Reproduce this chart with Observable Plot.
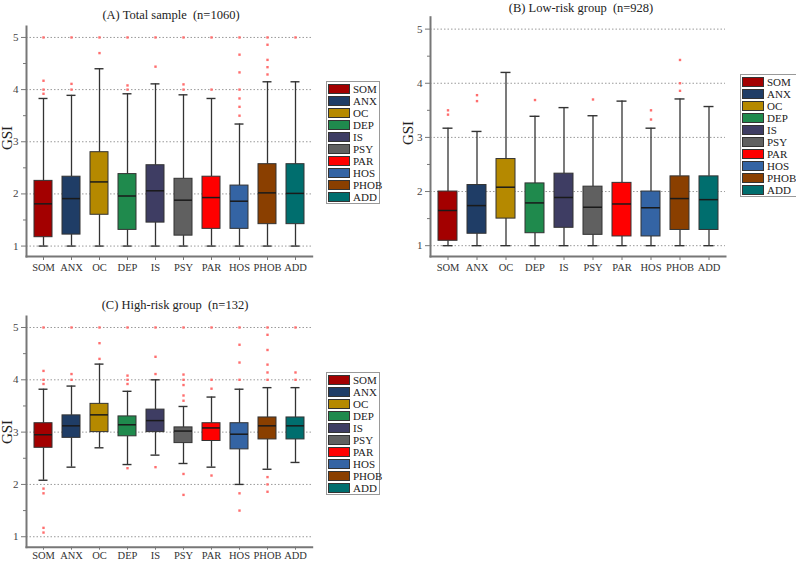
<!DOCTYPE html>
<html>
<head>
<meta charset="utf-8">
<script src="https://cdn.jsdelivr.net/npm/d3@7"></script>
<script src="https://cdn.jsdelivr.net/npm/@observablehq/plot@0.6"></script>
<style>
  html, body { margin: 0; padding: 0; background: #fff; }
  #root { position: relative; width: 796px; height: 562px; overflow: hidden; font-family: "Liberation Serif", "DejaVu Serif", serif; }
  .panel { position: absolute; }
  .panel svg { overflow: visible; }
  .title { position: absolute; font-size: 12.5px; color: #222; white-space: pre; transform: translate(-50%, -50%); line-height: 13px; }
  .ylab { position: absolute; font-size: 15px; color: #222; transform: translate(-50%, -50%) rotate(-90deg); line-height: 15px; }
  .legend { position: absolute; border: 1px solid #999; background: #fff; box-sizing: border-box; padding: 1px 0 0 0; }
  .legend .row { display: flex; align-items: center; height: 12px; }
  .legend .sw { width: 22px; height: 10px; border: 1px solid #333; margin-left: 1px; margin-right: 3px; box-sizing: border-box; flex: none; }
  .legend .lb { font-size: 11px; color: #222; line-height: 11px; }
</style>
</head>
<body>
<div id="root"></div>
<script>
const categories = ["SOM","ANX","OC","DEP","IS","PSY","PAR","HOS","PHOB","ADD"];
const colors = ["#a30000","#1f3d66","#b58900","#1f8a4d","#3e3d63","#606060","#ff0000","#3464a4","#8a3f00","#006e6e"];
const yTicks = [1,2,3,4,5];
const yMinor = [1.5,2.5,3.5,4.5];

// (A) Total sample
const A_low  = [1,1,1,1,1,1,1,1,1,1];
const A_q1   = [1.17,1.22,1.60,1.31,1.45,1.20,1.33,1.33,1.42,1.42];
const A_med  = [1.81,1.91,2.23,1.96,2.06,1.88,1.93,1.86,2.02,2.01];
const A_q3   = [2.25,2.33,2.80,2.38,2.55,2.29,2.33,2.16,2.57,2.57];
const A_high = [3.83,3.89,4.40,3.92,4.11,3.90,3.83,3.34,4.15,4.15];
const A_out  = [[5,4.17,4.0,3.92],[5,4.11,4.0],[5,4.7],[5,4.08,4.0],[5,4.44],[5,4.1,4.0],[5,4.0],[5,4.67,4.33,4.0,3.83,3.67,3.5],[5,4.86,4.57,4.43,4.29],[5]];

// (B) Low-risk group
const B_low  = [1,1,1,1,1,1,1,1,1,1];
const B_q1   = [1.09,1.22,1.50,1.23,1.33,1.20,1.17,1.17,1.29,1.29];
const B_med  = [1.65,1.74,2.08,1.79,1.89,1.71,1.77,1.70,1.87,1.85];
const B_q3   = [2.00,2.12,2.60,2.15,2.33,2.09,2.16,2.00,2.28,2.28];
const B_high = [3.17,3.11,4.20,3.39,3.55,3.40,3.67,3.17,3.71,3.57];
const B_out  = [[3.5,3.42],[3.78,3.67],[],[3.69],[],[3.70],[],[3.5,3.33],[4.43,4.0,3.86],[]];

// (C) High-risk group
const C_low  = [2.08,2.33,2.70,2.38,2.56,2.40,2.33,2.00,2.29,2.42];
const C_q1   = [2.70,2.89,3.00,2.92,3.00,2.79,2.83,2.67,2.86,2.86];
const C_med  = [2.95,3.12,3.33,3.14,3.22,3.02,3.08,2.96,3.12,3.12];
const C_q3   = [3.17,3.32,3.54,3.30,3.43,3.09,3.17,3.17,3.28,3.28];
const C_high = [3.82,3.88,4.30,3.78,4.00,3.49,3.67,3.82,3.85,3.85];
const C_out  = [[5,4.17,4.0,3.92,1.92,1.83,1.17,1.08],[5,4.11,4.0],[5,4.7,4.4],[5,4.08,4.0,3.92,2.31],[5,4.44,4.11,2.33],[5,4.1,4.0,3.9,3.7,3.6,2.2,1.8],[5,4.0,3.83,2.17],[5,4.67,4.33,4.0,1.83,1.5],[5,4.86,4.57,4.29,4.14,4.0,2.14,2.0,1.86],[5,4.14,4.0]];

const root = document.getElementById("root");

function panel(cfg) {
  const stats = categories.map((c, i) => ({cat: c, lo: cfg.low[i], q1: cfg.q1[i], med: cfg.med[i], q3: cfg.q3[i], hi: cfg.high[i]}));
  const outs = categories.flatMap((c, i) => cfg.out[i].map(v => ({cat: c, v})));
  const axisCol = "#777";
  const chart = Plot.plot({
    width: cfg.width, height: cfg.height,
    marginLeft: cfg.ml, marginRight: cfg.mr, marginTop: cfg.mt, marginBottom: cfg.mb,
    x: {type: "band", domain: categories, paddingInner: 0.35, paddingOuter: 0.175, label: null},
    y: {domain: cfg.ydom, label: null},
    color: {domain: categories, range: colors},
    style: {fontFamily: "Liberation Serif, serif", fontSize: "10.5px", color: "#333", background: "transparent", overflow: "visible"},
    marks: [
      Plot.gridY(yTicks, {stroke: "#9a9a9a", strokeOpacity: 1, strokeDasharray: "1.5,2"}),
      Plot.ruleX(stats, {x: "cat", y1: "lo", y2: "q1", stroke: "#333", strokeWidth: 1.3}),
      Plot.ruleX(stats, {x: "cat", y1: "q3", y2: "hi", stroke: "#333", strokeWidth: 1.3}),
      Plot.tickY(stats, {x: "cat", y: "lo", insetLeft: 4.5, insetRight: 4.5, stroke: "#333", strokeWidth: 1.4}),
      Plot.tickY(stats, {x: "cat", y: "hi", insetLeft: 4.5, insetRight: 4.5, stroke: "#333", strokeWidth: 1.4}),
      Plot.barY(stats, {x: "cat", y1: "q1", y2: "q3", fill: "cat", stroke: "#333", strokeWidth: 1}),
      Plot.tickY(stats, {x: "cat", y: "med", stroke: "#1a1a1a", strokeWidth: 1.5}),
      Plot.dot(outs, {x: "cat", y: "v", symbol: "square", r: 1.35, fill: "#ff6e6e"}),
      Plot.axisY({ticks: yTicks, tickSize: 5, tickPadding: 3, tickFormat: d3.format("d"), stroke: axisCol, fontSize: 11, fill: "#444"}),
      Plot.axisY({ticks: yMinor, tickSize: 3, tickFormat: () => "", stroke: axisCol}),
      Plot.axisX({tickSize: cfg.xts, tickPadding: cfg.xtp, stroke: axisCol, fill: "#333"}),
      Plot.frame({anchor: "left", stroke: axisCol, strokeWidth: 2}),
      Plot.frame({anchor: "bottom", stroke: axisCol, strokeWidth: 2})
    ]
  });
  const div = document.createElement("div");
  div.className = "panel";
  div.style.left = cfg.left + "px";
  div.style.top = cfg.top + "px";
  div.appendChild(chart);
  root.appendChild(div);

  const t = document.createElement("div");
  t.className = "title";
  t.textContent = cfg.title;
  t.style.left = cfg.tx + "px"; t.style.top = cfg.ty + "px";
  root.appendChild(t);

  const yl = document.createElement("div");
  yl.className = "ylab";
  yl.textContent = "GSI";
  yl.style.left = cfg.gx + "px"; yl.style.top = cfg.gy + "px";
  root.appendChild(yl);

  const lg = document.createElement("div");
  lg.className = "legend";
  lg.style.left = cfg.lx + "px"; lg.style.top = cfg.ly + "px";
  lg.style.width = cfg.lw + "px"; lg.style.height = "123px";
  categories.forEach((c, i) => {
    const r = document.createElement("div"); r.className = "row";
    const s = document.createElement("div"); s.className = "sw"; s.style.background = colors[i];
    const l = document.createElement("div"); l.className = "lb"; l.textContent = c;
    r.appendChild(s); r.appendChild(l); lg.appendChild(r);
  });
  root.appendChild(lg);
}

panel({left: 0, top: 0, width: 330, height: 290, ml: 26, mr: 18.3, mt: 26, mb: 34, ydom: [0.8, 5.21], xts: 4, xtp: 3,
  low: A_low, q1: A_q1, med: A_med, q3: A_q3, high: A_high, out: A_out,
  title: "(A) Total sample  (n=1060)", tx: 171, ty: 15, gx: 7, gy: 138, lx: 326, ly: 81, lw: 54});

panel({left: 400, top: 0, width: 340, height: 290, ml: 30, mr: 15, mt: 16.7, mb: 34, ydom: [0.8, 5.22], xts: 4, xtp: 3,
  low: B_low, q1: B_q1, med: B_med, q3: B_q3, high: B_high, out: B_out,
  title: "(B) Low-risk group  (n=928)", tx: 581, ty: 7.5, gx: 408, gy: 133, lx: 740, ly: 74, lw: 57});

panel({left: 0, top: 290, width: 330, height: 272, ml: 26, mr: 18.3, mt: 26, mb: 15.3, ydom: [0.8, 5.21], xts: 3, xtp: 1,
  low: C_low, q1: C_q1, med: C_med, q3: C_q3, high: C_high, out: C_out,
  title: "(C) High-risk group  (n=132)", tx: 175, ty: 305, gx: 7, gy: 432, lx: 326, ly: 372, lw: 54});
</script>
</body>
</html>
